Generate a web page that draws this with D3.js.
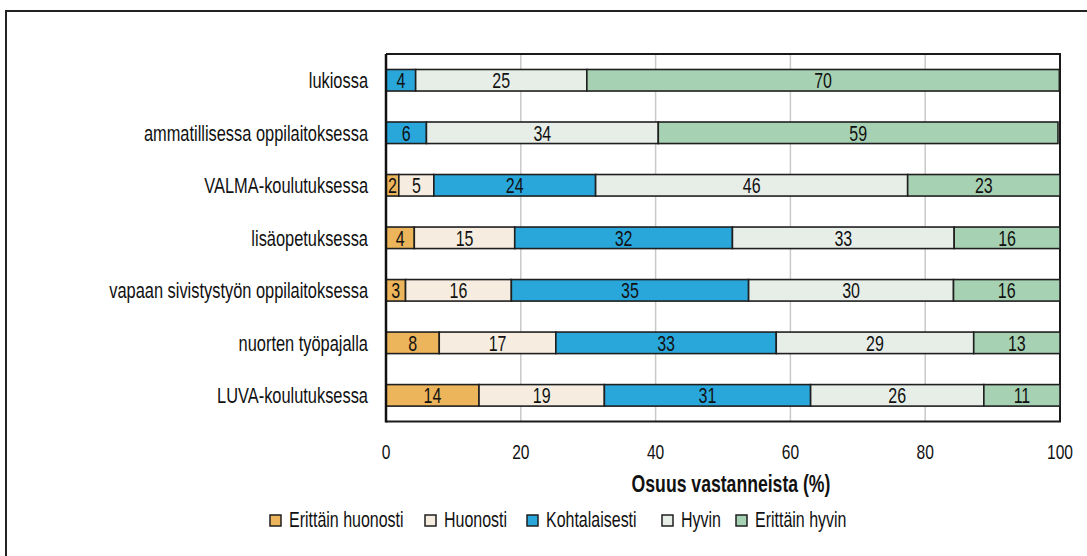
<!DOCTYPE html>
<html>
<head>
<meta charset="utf-8">
<script src="https://cdn.jsdelivr.net/npm/d3@7"></script>
<style>
  html, body { margin: 0; padding: 0; background: #fff; }
  svg { display: block; }
  text { font-family: "Liberation Sans", Arial, sans-serif; fill: #111; }
</style>
</head>
<body>
<svg id="chart" width="1087" height="556"></svg>
<script>
// ---- Data ----
const categories = [
  "lukiossa",
  "ammatillisessa oppilaitoksessa",
  "VALMA-koulutuksessa",
  "lisäopetuksessa",
  "vapaan sivistystyön oppilaitoksessa",
  "nuorten työpajalla",
  "LUVA-koulutuksessa"
];
const seriesNames = ["Erittäin huonosti", "Huonosti", "Kohtalaisesti", "Hyvin", "Erittäin hyvin"];
const erittainHuonosti = [0, 0, 1.9, 4.2, 2.9, 7.9, 13.8];
const huonosti         = [0, 0, 5.2, 14.9, 15.7, 17.3, 18.6];
const kohtalaisesti    = [4.4, 6.0, 24.0, 32.3, 35.2, 32.7, 30.6];
const hyvin            = [25.4, 34.4, 46.3, 32.9, 30.4, 29.3, 25.7];
const erittainHyvin    = [70.1, 59.3, 22.6, 15.7, 15.8, 12.8, 11.3];
const xTicks = [0, 20, 40, 60, 80, 100];
const xTitle = "Osuus vastanneista (%)";
const colors = ["#EDB55B", "#F6EDE0", "#29A7DB", "#E7EEE8", "#A7D1B3"];

// ---- Layout ----
const svg = d3.select("#chart");
const plot = { left: 386, right: 1060, top: 54, bottom: 421.6 };
const NARROW = "scale(0.82,1.1)"; // emulate a condensed typeface

const x = d3.scaleLinear().domain([0, 100]).range([plot.left, plot.right]);
const y = d3.scaleBand().domain(categories).range([plot.top, plot.bottom])
  .paddingInner(0.59).paddingOuter(0.295);

const rows = categories.map((c, i) => ({
  cat: c,
  [seriesNames[0]]: erittainHuonosti[i],
  [seriesNames[1]]: huonosti[i],
  [seriesNames[2]]: kohtalaisesti[i],
  [seriesNames[3]]: hyvin[i],
  [seriesNames[4]]: erittainHyvin[i]
}));
const stack = d3.stack().keys(seriesNames)(rows);

// outer frame (clipped at right/bottom as in reference)
svg.append("rect").attr("x", 6).attr("y", 11).attr("width", 1200).attr("height", 700)
  .attr("fill", "none").attr("stroke", "#222").attr("stroke-width", 2);

// grid lines
svg.append("g").selectAll("line").data(xTicks.filter(t => t > 0 && t < 100)).join("line")
  .attr("x1", d => x(d)).attr("x2", d => x(d))
  .attr("y1", plot.top).attr("y2", plot.bottom)
  .attr("stroke", "#c9c9c9").attr("stroke-width", 1.5);

// plot frame top/right/bottom
svg.append("path")
  .attr("d", `M${plot.left},${plot.top}H${plot.right}V${plot.bottom}H${plot.left}`)
  .attr("fill", "none").attr("stroke", "#1a1a1a").attr("stroke-width", 2);

// bars
const gBars = svg.append("g");
stack.forEach((layer, si) => {
  const g = gBars.append("g");
  layer.forEach((d, i) => {
    const w = x(d[1]) - x(d[0]);
    if (w <= 0) return;
    g.append("rect")
      .attr("x", x(d[0])).attr("y", y(categories[i]))
      .attr("width", w).attr("height", y.bandwidth())
      .attr("fill", colors[si]).attr("stroke", "#1f1f1f").attr("stroke-width", 1.6);
    g.append("text")
      .attr("transform", `translate(${(x(d[0]) + x(d[1])) / 2},${y(categories[i]) + y.bandwidth() / 2 + 8}) ${NARROW}`)
      .attr("text-anchor", "middle")
      .attr("font-size", 19.5)
      .text(Math.round(d[1] - d[0]));
  });
});

// left axis line
svg.append("line").attr("x1", plot.left).attr("x2", plot.left)
  .attr("y1", plot.top).attr("y2", plot.bottom + 1)
  .attr("stroke", "#111").attr("stroke-width", 2.5);

// category labels
svg.append("g").selectAll("text").data(categories).join("text")
  .attr("transform", d => `translate(368,${y(d) + y.bandwidth() / 2 + 8}) ${NARROW}`)
  .attr("text-anchor", "end")
  .attr("font-size", 20)
  .text(d => d);

// x tick labels
svg.append("g").selectAll("text").data(xTicks).join("text")
  .attr("transform", d => `translate(${x(d)},459) ${NARROW}`)
  .attr("text-anchor", "middle")
  .attr("font-size", 19)
  .text(d => d);

// x title
svg.append("text")
  .attr("transform", `translate(731,492) ${NARROW}`)
  .attr("text-anchor", "middle")
  .attr("font-size", 21.5)
  .attr("font-weight", "bold")
  .text(xTitle);

// legend
const legendX = [270, 425, 527, 662, 736];
const lg = svg.append("g");
seriesNames.forEach((s, i) => {
  lg.append("rect").attr("x", legendX[i]).attr("y", 515).attr("width", 11).attr("height", 11)
    .attr("fill", colors[i]).attr("stroke", "#1f1f1f").attr("stroke-width", 1.5);
  lg.append("text")
    .attr("transform", `translate(${legendX[i] + 19},527) ${NARROW}`)
    .attr("font-size", 19.5)
    .text(s);
});
</script>
</body>
</html>
